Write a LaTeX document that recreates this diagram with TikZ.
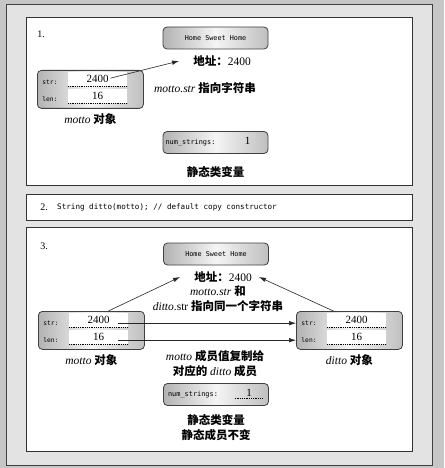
\documentclass[tikz,border=0pt]{standalone}
\usepackage{fontspec}
\setmainfont{Liberation Serif}
\setmonofont{DejaVu Sans Mono}
\newfontfamily\cjk{Noto Sans CJK SC}
\usetikzlibrary{arrows.meta, positioning}

\newcommand{\zh}[1]{{\cjk\bfseries #1}}

\tikzset{
  panel/.style={draw=black!80, line width=0.9pt, fill=white},
  objbox/.style={draw=black!75, line width=0.8pt, rounded corners=4pt,
    left color=gray!60, right color=gray!50, middle color=gray!8,
    minimum width=106pt, minimum height=38pt, inner sep=0pt},
  strbox/.style={objbox, minimum width=105pt, minimum height=22pt},
  valfield/.style={fill=white, minimum width=59pt, minimum height=14pt,
    inner sep=0pt, font=\fontsize{11}{11}\selectfont},
  fldlbl/.style={font=\ttfamily\fontsize{6.3}{7}\selectfont, inner sep=0pt},
  codetxt/.style={font=\ttfamily\fontsize{7}{8}\selectfont, inner sep=0pt},
  cntxt/.style={font=\fontsize{11.5}{15}\selectfont, align=center, inner sep=0pt},
  numlbl/.style={font=\fontsize{10}{10}\selectfont, inner sep=0pt},
  ptr/.style={-{Latex[length=7pt, width=4.5pt]}, line width=0.6pt, black!85},
}

\begin{document}
\begin{tikzpicture}[x=1pt, y=-1pt]
  \useasboundingbox (0,0) rectangle (444,468);
  % 背景与外框
  \fill[gray!45] (0,0) rectangle (444,468);
  \draw[fill=gray!22, draw=black!75, line width=1pt] (6,5) rectangle (432,465);

  % --- 三个面板 ---
  \draw[panel] (26,17) rectangle (412,185);
  \draw[panel] (26,194) rectangle (412,220);
  \draw[panel] (26,227) rectangle (412,451);
  \node[numlbl] (p1) at (41,34) {1.};
  \node[numlbl] (p2) at (44,207) {2.};
  \node[numlbl] (p3) at (44,246) {3.};
  \node[codetxt, anchor=west, font=\ttfamily\fontsize{7.6}{8}\selectfont] (code) at (57,207)
    {String ditto(motto); // default copy constructor};

  % 对象框: motto (1), motto (3), ditto (3)
  \foreach \nm/\x/\y in {m1/37/70, m3/38/311, d3/296/311} {
    \node[objbox, anchor=north west] (\nm) at (\x,\y) {};
    \node[valfield, anchor=north west] (\nm-s) at ([xshift=31pt, yshift=-2pt]\nm.north west) {2400};
    \node[valfield, anchor=north west] (\nm-l) at ([xshift=31pt, yshift=-19pt]\nm.north west) {16};
    \draw[densely dotted, line width=0.8pt] (\nm-s.south west) -- (\nm-s.south east);
    \draw[densely dotted, line width=0.8pt] (\nm-l.south west) -- (\nm-l.south east);
    \node[fldlbl] (\nm-sl) at ([xshift=13pt, yshift=-12pt]\nm.north west) {str:};
    \node[fldlbl] (\nm-ll) at ([xshift=13pt, yshift=-29pt]\nm.north west) {len:};
  }

  % --- 面板 1 ---
  \node[strbox] (hsh1) at (215.5,38) {};
  \node[fldlbl, font=\ttfamily\fontsize{6.8}{7}\selectfont] (hsh1-t) at (hsh1) {Home Sweet Home};
  \node[cntxt] (addr1) at (222,61) {\zh{地址：}2400};
  \node[cntxt] (note1) at (205,88) {\textit{motto.str} \zh{指向字符串}};
  \node[cntxt, below=5pt of m1] (m1-cap) {\textit{motto} \zh{对象}};
  \node[strbox] (ns1) at (215.5,142.5) {};
  \node[fldlbl, font=\ttfamily\fontsize{6.9}{7}\selectfont] (ns1-l) at ([xshift=-25pt]ns1.center) {num\_strings:};
  \node[numlbl, font=\fontsize{11}{11}\selectfont] (ns1-v) at ([xshift=32pt, yshift=2pt]ns1.center) {1};
  \node[cntxt, below=12pt of ns1] (stat1) {\zh{静态类变量}};
  \coordinate (a1s) at ([xshift=-17pt, yshift=1pt]m1-s.east);
  \draw[ptr] (a1s) -- ([xshift=-14pt]addr1.west);

  % --- 面板 3 ---
  \node[strbox] (hsh3) at (216,254) {};
  \node[fldlbl, font=\ttfamily\fontsize{6.8}{7}\selectfont] (hsh3-t) at (hsh3) {Home Sweet Home};
  \node[cntxt] (addr3) at (223,277) {\zh{地址：}2400};
  \node[cntxt] (note3) at (218,298.5) {\textit{motto.str} \zh{和}\\\textit{ditto}.str \zh{指向同一个字符串}};
  \node[cntxt, below=5pt of m3] (m3-cap) {\textit{motto} \zh{对象}};
  \node[cntxt, below=5pt of d3] (d3-cap) {\textit{ditto} \zh{对象}};
  \node[cntxt] (copy) at (215,364) {\textit{motto} \zh{成员值复制给}\\\zh{对应的} \textit{ditto} \zh{成员}};
  \node[strbox] (ns3) at (216,394.5) {};
  \node[fldlbl, font=\ttfamily\fontsize{6.9}{7}\selectfont] (ns3-l) at ([xshift=-23pt]ns3.center) {num\_strings:};
  \node[valfield, fill=none, minimum width=28pt, minimum height=11pt] (ns3-v) at ([xshift=33pt, yshift=2pt]ns3.center) {1};
  \draw[densely dotted, line width=0.8pt] (ns3-v.south west) -- (ns3-v.south east);
  \node[cntxt, below=8pt of ns3] (stat3) {\zh{静态类变量}\\\zh{静态成员不变}};

  % 指针箭头
  \draw[ptr] ([xshift=17pt]m3.north) -- ([xshift=-14pt]addr3.west);
  \draw[ptr] ([xshift=-16pt]d3.north) -- ([xshift=7pt]addr3.east);
  % 成员复制箭头
  \coordinate (cs) at ([xshift=-10pt, yshift=-3pt]m3-s.east);
  \coordinate (cl) at ([xshift=-10pt, yshift=-3pt]m3-l.east);
  \draw[ptr] (cs) -- (cs -| d3.west);
  \draw[ptr] (cl) -- (cl -| d3.west);
\end{tikzpicture}
\end{document}
